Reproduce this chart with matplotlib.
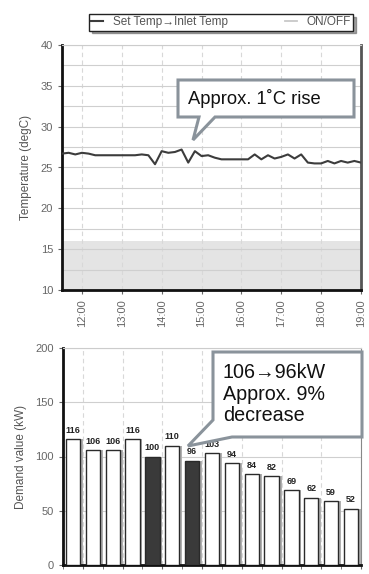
import matplotlib
matplotlib.use("Agg")
import matplotlib.pyplot as plt
import numpy as np
from matplotlib.patches import Polygon

plt.rcParams['font.family'] = ['Liberation Sans', 'DejaVu Sans']

# temperature readings every 10 min, 11:30 .. 19:00
temp_start = 11.5
temp_step = 1 / 6
temperature = [26.7, 26.8, 26.6, 26.8, 26.7, 26.5, 26.5, 26.5, 26.5, 26.5,
               26.5, 26.5, 26.6, 26.5, 25.4, 27.0, 26.8, 26.9, 27.2, 25.6,
               27.0, 26.4, 26.5, 26.2, 26.0, 26.0, 26.0, 26.0, 26.0, 26.6,
               26.0, 26.5, 26.1, 26.3, 26.6, 26.1, 26.6, 25.6, 25.5, 25.5,
               25.8, 25.5, 25.8, 25.6, 25.8, 25.6]
on_off_level = 16
hour_labels = ['12:00', '13:00', '14:00', '15:00', '16:00', '17:00', '18:00', '19:00']

# demand per 30 min slot, 11:30 .. 18:30
demand = [116, 106, 106, 116, 100, 110, 96, 103, 94, 84, 82, 69, 62, 59, 52]
dark_slots = [4, 6]

fig = plt.figure(figsize=(3.69, 5.74), dpi=100)
W, H = 369, 574

def px(x, y):
    return (x / W, 1 - y / H)

tick_col = '#666666'

# ---- top chart
ax1 = fig.add_axes([62 / W, 1 - 290 / H, 299 / W, 245 / H])
times = temp_start + temp_step * np.arange(len(temperature))
ax1.fill_between([times[0], times[-1]], 10, on_off_level, color='#e4e4e4', lw=0, zorder=1)
ax1.plot(times, temperature, color='#3c3c3c', lw=1.5, zorder=3, label='Set Temp\u2192Inlet Temp')
ax1.plot([], [], color='#c8c8c8', lw=1.3, label='ON/OFF')
ax1.set_xlim(11.5, 19.0)
ax1.set_ylim(10, 40)
ax1.set_yticks(np.arange(10, 41, 5))
ax1.set_yticks(np.arange(10, 41, 2.5), minor=True)
ax1.set_xticks(np.arange(12, 20))
ax1.set_xticklabels(hour_labels, rotation=90)
ax1.grid(True, which='both', axis='y', color='#cfcfcf', lw=0.8, zorder=0)
ax1.grid(True, which='major', axis='x', color='#d8d8d8', lw=0.8, ls=(0, (4, 3)), zorder=0)
ax1.tick_params(labelsize=8, colors=tick_col, length=3, which='both')
ax1.tick_params(axis='y', which='minor', length=0)
ax1.set_ylabel('Temperature (degC)', fontsize=8.5, color='#555555', labelpad=6)
for s in ['left', 'bottom']:
    ax1.spines[s].set_linewidth(2)
    ax1.spines[s].set_color('#111111')
ax1.spines['right'].set_linewidth(2)
ax1.spines['right'].set_color('#555555')
ax1.spines['top'].set_color('#cccccc')
leg = ax1.legend(loc='lower left', bbox_to_anchor=(21 / 299, 1.035, 276 / 299, 0.07),
                 mode='expand', ncol=2, fontsize=8.5, frameon=True, fancybox=False,
                 shadow=True, handlelength=1.0, borderpad=0.2, labelcolor='#555555')
leg.get_frame().set_edgecolor('#222222')
leg.get_frame().set_linewidth(1.0)

# ---- bottom chart
ax2 = fig.add_axes([63 / W, 1 - 565 / H, 298 / W, 217 / H])
x = np.arange(len(demand))
colors = ['#3a3a3a' if i in dark_slots else 'white' for i in x]
ax2.bar(x + 0.14, demand, width=0.72, color='#b0b0b0', lw=0, zorder=2)
ax2.bar(x, demand, width=0.72, color=colors, edgecolor='#2a2a2a', lw=1.0, zorder=3)
for xi, v in zip(x, demand):
    ax2.text(xi, v + 4, str(v), ha='center', va='bottom', fontsize=6.5,
             fontweight='bold', color='#222222', zorder=4)
ax2.set_xlim(-0.5, len(demand) - 0.5)
ax2.set_ylim(0, 200)
ax2.set_yticks(np.arange(0, 201, 50))
ax2.set_xticks(np.arange(0.5, len(demand), 2))
ax2.set_xticks(np.arange(-0.5, len(demand), 1), minor=True)
ax2.set_xticklabels([])
ax2.grid(True, axis='y', color='#cfcfcf', lw=0.8, zorder=0)
ax2.grid(True, axis='x', color='#d8d8d8', lw=0.8, ls=(0, (4, 3)), zorder=0)
ax2.tick_params(labelsize=8, colors=tick_col, length=3, which='both')
ax2.set_ylabel('Demand value (kW)', fontsize=8.5, color='#555555', labelpad=6)
for s in ['left', 'bottom']:
    ax2.spines[s].set_linewidth(2)
    ax2.spines[s].set_color('#111111')
ax2.spines['right'].set_color('#888888')
ax2.spines['top'].set_color('#cccccc')

# ---- callouts (figure pixel coordinates)
edge = '#8a939b'

def callout(pts, tx, ty, text, size, spacing=1.0):
    poly = Polygon([px(*p) for p in pts], closed=True, transform=fig.transFigure,
                   facecolor='white', edgecolor=edge, lw=2.2, zorder=10)
    fig.patches.append(poly)
    fig.text(*px(tx, ty), text, fontsize=size, color='#111111', va='center',
             ha='left', linespacing=spacing, zorder=11)

callout([(178, 80), (354, 80), (354, 117), (215, 117), (193, 140), (199, 117), (178, 117)],
        188, 98.5, 'Approx. 1\u02daC rise', 13.2)
callout([(213, 352), (362, 352), (362, 437), (232, 437), (188, 446), (213, 420)],
        223, 394, '106\u219296kW\nApprox. 9%\ndecrease', 14.2, spacing=1.15)

fig.savefig('out.png', dpi=100)
